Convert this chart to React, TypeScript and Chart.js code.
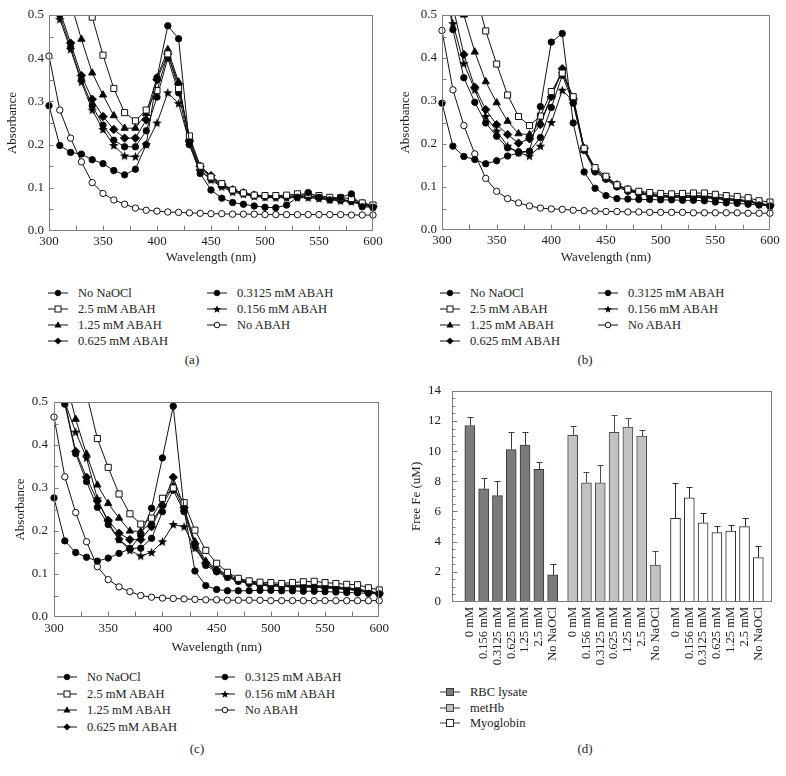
import React, { useEffect, useRef } from 'react';
import { Chart, registerables } from 'chart.js';
Chart.register(...registerables);

const FONT = '"Liberation Serif", "Times New Roman", serif';
const TEXT = '#222';
const FRAME = '#7c7c7c';

// ---------- data: absorbance spectra ----------
const WAVELENGTHS = [300, 310, 320, 330, 340, 350, 360, 370, 380, 390, 400, 410, 420, 430, 440, 450,
  460, 470, 480, 490, 500, 510, 520, 530, 540, 550, 560, 570, 580, 590, 600];
const SERIES_LABELS = ['No NaOCl', '2.5 mM ABAH', '1.25 mM ABAH', '0.625 mM ABAH', '0.3125 mM ABAH', '0.156 mM ABAH', 'No ABAH'];

// Panel (a)
const A_NO_NAOCL = [0.29, 0.198, 0.182, 0.178, 0.165, 0.156, 0.14, 0.13, 0.143, 0.2, 0.355, 0.475, 0.445, 0.2, 0.133, 0.095, 0.076, 0.066, 0.062, 0.058, 0.055, 0.054, 0.06, 0.078, 0.089, 0.078, 0.072, 0.078, 0.086, 0.056, 0.055];
const A_2_5 = [1.0, 0.85, 0.72, 0.6, 0.495, 0.407, 0.33, 0.274, 0.255, 0.28, 0.325, 0.41, 0.33, 0.22, 0.15, 0.125, 0.11, 0.095, 0.088, 0.083, 0.082, 0.082, 0.083, 0.086, 0.085, 0.082, 0.078, 0.077, 0.075, 0.065, 0.06];
const A_1_25 = [0.75, 0.62, 0.53, 0.444, 0.366, 0.315, 0.267, 0.238, 0.238, 0.272, 0.355, 0.42, 0.345, 0.21, 0.145, 0.125, 0.105, 0.095, 0.088, 0.083, 0.08, 0.08, 0.08, 0.082, 0.08, 0.078, 0.075, 0.072, 0.07, 0.062, 0.058];
const A_0_625 = [0.65, 0.51, 0.435, 0.36, 0.305, 0.265, 0.235, 0.215, 0.215, 0.257, 0.35, 0.41, 0.34, 0.21, 0.15, 0.128, 0.108, 0.095, 0.088, 0.083, 0.08, 0.08, 0.08, 0.08, 0.08, 0.078, 0.075, 0.072, 0.07, 0.063, 0.057];
const A_0_3125 = [0.63, 0.5, 0.425, 0.35, 0.29, 0.245, 0.21, 0.195, 0.195, 0.232, 0.31, 0.4, 0.32, 0.2, 0.14, 0.12, 0.105, 0.093, 0.087, 0.082, 0.08, 0.079, 0.079, 0.08, 0.08, 0.077, 0.074, 0.072, 0.069, 0.062, 0.056];
const A_0_156 = [0.62, 0.49, 0.42, 0.345, 0.28, 0.235, 0.198, 0.174, 0.172, 0.2, 0.25, 0.32, 0.295, 0.205, 0.14, 0.118, 0.102, 0.09, 0.085, 0.08, 0.078, 0.077, 0.077, 0.077, 0.077, 0.075, 0.072, 0.07, 0.068, 0.06, 0.055];
const A_NO_ABAH = [0.405, 0.28, 0.215, 0.16, 0.112, 0.087, 0.072, 0.062, 0.053, 0.048, 0.046, 0.044, 0.043, 0.042, 0.041, 0.04, 0.04, 0.039, 0.039, 0.039, 0.038, 0.038, 0.038, 0.038, 0.038, 0.038, 0.038, 0.038, 0.037, 0.037, 0.037];

// Panel (b)
const B_NO_NAOCL = [0.295, 0.195, 0.171, 0.164, 0.154, 0.161, 0.172, 0.179, 0.183, 0.287, 0.437, 0.457, 0.249, 0.135, 0.097, 0.08, 0.073, 0.072, 0.071, 0.071, 0.07, 0.07, 0.069, 0.069, 0.068, 0.065, 0.063, 0.062, 0.06, 0.058, 0.056];
const B_2_5 = [1.0, 0.85, 0.7, 0.56, 0.463, 0.386, 0.314, 0.264, 0.243, 0.265, 0.322, 0.365, 0.31, 0.19, 0.145, 0.125, 0.105, 0.095, 0.09, 0.087, 0.085, 0.084, 0.085, 0.086, 0.086, 0.083, 0.08, 0.078, 0.075, 0.068, 0.065];
const B_1_25 = [0.75, 0.6, 0.5, 0.414, 0.345, 0.296, 0.253, 0.224, 0.222, 0.25, 0.31, 0.37, 0.3, 0.185, 0.14, 0.12, 0.103, 0.093, 0.087, 0.083, 0.08, 0.08, 0.08, 0.08, 0.079, 0.077, 0.074, 0.071, 0.068, 0.062, 0.058];
const B_0_625 = [0.68, 0.52, 0.408, 0.332, 0.28, 0.245, 0.222, 0.202, 0.212, 0.245, 0.31, 0.375, 0.305, 0.19, 0.14, 0.122, 0.105, 0.094, 0.088, 0.083, 0.08, 0.079, 0.079, 0.079, 0.078, 0.076, 0.073, 0.07, 0.068, 0.062, 0.058];
const B_0_3125 = [0.62, 0.466, 0.354, 0.297, 0.249, 0.218, 0.191, 0.182, 0.183, 0.215, 0.285, 0.36, 0.295, 0.185, 0.135, 0.118, 0.1, 0.09, 0.085, 0.08, 0.077, 0.076, 0.076, 0.076, 0.075, 0.073, 0.07, 0.068, 0.066, 0.06, 0.056];
const B_0_156 = [0.62, 0.48, 0.387, 0.326, 0.264, 0.23, 0.195, 0.18, 0.172, 0.195, 0.25, 0.325, 0.3, 0.19, 0.14, 0.122, 0.105, 0.093, 0.086, 0.081, 0.078, 0.077, 0.077, 0.077, 0.076, 0.074, 0.071, 0.069, 0.066, 0.06, 0.056];
const B_NO_ABAH = [0.464, 0.326, 0.243, 0.177, 0.12, 0.09, 0.073, 0.063, 0.056, 0.051, 0.049, 0.048, 0.046, 0.045, 0.044, 0.043, 0.043, 0.042, 0.042, 0.041, 0.041, 0.041, 0.041, 0.04, 0.04, 0.04, 0.04, 0.04, 0.039, 0.039, 0.039];

// Panel (c)
const C_NO_NAOCL = [0.277, 0.177, 0.15, 0.139, 0.13, 0.137, 0.148, 0.158, 0.19, 0.253, 0.37, 0.49, 0.25, 0.107, 0.073, 0.064, 0.061, 0.061, 0.061, 0.062, 0.062, 0.061, 0.061, 0.06, 0.06, 0.059, 0.058, 0.057, 0.056, 0.055, 0.054];
const C_2_5 = [1.0, 0.8, 0.65, 0.52, 0.415, 0.348, 0.286, 0.24, 0.216, 0.23, 0.276, 0.3, 0.266, 0.202, 0.155, 0.125, 0.104, 0.09, 0.084, 0.081, 0.08, 0.078, 0.08, 0.082, 0.083, 0.08, 0.078, 0.076, 0.075, 0.068, 0.063];
const C_1_25 = [0.68, 0.56, 0.46, 0.379, 0.307, 0.264, 0.23, 0.2, 0.199, 0.22, 0.26, 0.305, 0.25, 0.175, 0.13, 0.112, 0.098, 0.088, 0.082, 0.078, 0.076, 0.075, 0.074, 0.074, 0.073, 0.072, 0.07, 0.068, 0.065, 0.06, 0.056];
const C_0_625 = [0.62, 0.5, 0.385, 0.325, 0.27, 0.225, 0.195, 0.18, 0.18, 0.21, 0.26, 0.325, 0.255, 0.17, 0.125, 0.108, 0.095, 0.085, 0.08, 0.076, 0.074, 0.073, 0.072, 0.072, 0.071, 0.07, 0.068, 0.066, 0.063, 0.058, 0.054];
const C_0_3125 = [0.6, 0.495, 0.38, 0.315, 0.255, 0.215, 0.18, 0.16, 0.16, 0.183, 0.245, 0.295, 0.245, 0.165, 0.12, 0.105, 0.092, 0.083, 0.078, 0.074, 0.072, 0.071, 0.07, 0.07, 0.069, 0.068, 0.066, 0.064, 0.062, 0.057, 0.053];
const C_0_156 = [0.6, 0.5, 0.43, 0.37, 0.275, 0.22, 0.18, 0.155, 0.142, 0.15, 0.175, 0.215, 0.21, 0.16, 0.125, 0.11, 0.095, 0.085, 0.08, 0.076, 0.074, 0.072, 0.071, 0.071, 0.07, 0.069, 0.067, 0.065, 0.062, 0.058, 0.055];
const C_NO_ABAH = [0.465, 0.326, 0.243, 0.175, 0.117, 0.087, 0.07, 0.059, 0.05, 0.046, 0.044, 0.043, 0.042, 0.041, 0.04, 0.04, 0.039, 0.039, 0.039, 0.039, 0.038, 0.038, 0.038, 0.038, 0.038, 0.038, 0.038, 0.038, 0.038, 0.038, 0.038];

const PANEL_A = [A_NO_NAOCL, A_2_5, A_1_25, A_0_625, A_0_3125, A_0_156, A_NO_ABAH];
const PANEL_B = [B_NO_NAOCL, B_2_5, B_1_25, B_0_625, B_0_3125, B_0_156, B_NO_ABAH];
const PANEL_C = [C_NO_NAOCL, C_2_5, C_1_25, C_0_625, C_0_3125, C_0_156, C_NO_ABAH];

// ---------- data: free iron bars ----------
const CONC_LABELS = ['0 mM', '0.156 mM', '0.3125 mM', '0.625 mM', '1.25 mM', '2.5 mM', 'No NaOCl'];
const GROUP_LABELS = ['RBC lysate', 'metHb', 'Myoglobin'];
const RBC_FE = [11.7, 7.5, 7.05, 10.1, 10.4, 8.8, 1.8];
const RBC_ERR = [0.55, 0.7, 0.95, 1.2, 0.85, 0.5, 0.75];
const METHB_FE = [11.05, 7.9, 7.9, 11.25, 11.6, 11.0, 2.45];
const METHB_ERR = [0.6, 0.7, 1.2, 1.15, 0.6, 0.4, 0.9];
const MYO_FE = [5.55, 6.9, 5.25, 4.6, 4.7, 5.0, 2.95];
const MYO_ERR = [2.35, 0.7, 0.65, 0.45, 0.4, 0.6, 0.75];
const Y_TICKS_FE = [0, 2, 4, 6, 8, 10, 12, 14];

// ---------- styles ----------
const SERIES_STYLE = [
  { shape: 'circle', r: 3.2, fill: '#000' },
  { shape: 'rect', r: 4.3, fill: '#fff' },
  { shape: 'triangle', r: 4.2, fill: '#000' },
  { shape: 'rectRot', r: 4.2, fill: '#000' },
  { shape: 'circle', r: 3.2, fill: '#000' },
  { shape: 'star', r: 4, fill: '#000' },
  { shape: 'circle', r: 3.2, fill: '#fff' },
];
const BAR_STYLE = [
  { fill: '#7b7b7b', border: '#3a3a3a' },
  { fill: '#c2c2c2', border: '#4a4a4a' },
  { fill: '#ffffff', border: '#2a2a2a' },
];
const GROUP_STRIDE = 7.45;

function makeStar(): HTMLCanvasElement {
  const c = document.createElement('canvas');
  c.width = 11; c.height = 11;
  const g = c.getContext('2d')!;
  g.beginPath();
  for (let k = 0; k < 10; k++) {
    const r = k % 2 === 0 ? 5 : 2.1;
    const a = -Math.PI / 2 + (k * Math.PI) / 5;
    const px = 5.5 + r * Math.cos(a), py = 5.8 + r * Math.sin(a);
    if (k === 0) g.moveTo(px, py); else g.lineTo(px, py);
  }
  g.closePath();
  g.fillStyle = '#000';
  g.fill();
  return c;
}

const framePlugin = {
  id: 'frame',
  afterDraw(chart: any, _args: any, opts: any) {
    const { ctx, chartArea: a } = chart;
    const xs = chart.scales.x, ys = chart.scales.y;
    ctx.save();
    ctx.strokeStyle = FRAME;
    ctx.lineWidth = 1;
    const L = Math.round(a.left) + 0.5, R = Math.round(a.right) - 0.5;
    const T = Math.round(a.top) + 0.5, B = Math.round(a.bottom) - 0.5;
    ctx.strokeRect(L, T, R - L, B - T);
    ctx.beginPath();
    if (opts.xStep) {
      const n = Math.round((xs.max - xs.min) / opts.xStep);
      for (let i = 1; i < n; i++) {
        const px = Math.round(xs.getPixelForValue(xs.min + i * opts.xStep)) + 0.5;
        ctx.moveTo(px, B); ctx.lineTo(px, B - opts.xLen);
      }
    }
    if (opts.yStep) {
      const n = Math.round((ys.max - ys.min) / opts.yStep);
      for (let i = 1; i < n; i++) {
        const v = ys.min + i * opts.yStep;
        const major = opts.yMajor && Math.abs(v / opts.yMajor - Math.round(v / opts.yMajor)) < 1e-6;
        const len = major ? opts.yMajorLen : opts.yLen;
        const py = Math.round(ys.getPixelForValue(v)) + 0.5;
        ctx.moveTo(L, py); ctx.lineTo(L + len, py);
      }
    }
    ctx.stroke();
    ctx.restore();
  },
};

const errorBarPlugin = {
  id: 'errbars',
  afterDatasetsDraw(chart: any, _args: any, opts: any) {
    const ctx = chart.ctx;
    const ys = chart.scales.y;
    ctx.save();
    ctx.lineWidth = 1;
    (opts.errors || []).forEach((errs: number[], di: number) => {
      const meta = chart.getDatasetMeta(di);
      ctx.strokeStyle = BAR_STYLE[di].border;
      meta.data.forEach((bar: any, j: number) => {
        const v = chart.data.datasets[di].data[j].y;
        const top = Math.round(ys.getPixelForValue(v + errs[j])) + 0.5;
        const x = Math.round(bar.x) + 0.5;
        ctx.beginPath();
        ctx.moveTo(x, bar.y);
        ctx.lineTo(x, top);
        ctx.moveTo(x - 3, top);
        ctx.lineTo(x + 3, top);
        ctx.stroke();
      });
    });
    ctx.restore();
  },
};

type LineLayout = {
  yWidth: number; xHeight: number; padTop: number; padRight: number;
  yTitlePad: number; xTitlePad: number; xTickPad: number; yTickPad: number;
};

function makeLineConfig(series: number[][], lay: LineLayout): any {
  const star = makeStar();
  const font = { family: FONT, size: 13 };
  return {
    type: 'line',
    data: {
      datasets: series.map((vals, i) => {
        const st = SERIES_STYLE[i];
        return {
          label: SERIES_LABELS[i],
          data: vals.map((v, j) => ({ x: WAVELENGTHS[j], y: v })),
          borderColor: '#111',
          borderWidth: 1,
          pointStyle: st.shape === 'star' ? star : st.shape,
          pointRadius: st.r,
          pointBackgroundColor: st.fill,
          pointBorderColor: '#111',
          pointBorderWidth: 1,
          tension: 0,
          clip: { left: 8, right: 8, top: 0, bottom: 8 },
        };
      }),
    },
    options: {
      responsive: false,
      animation: false,
      devicePixelRatio: 1,
      layout: { padding: { left: 0, right: lay.padRight, top: lay.padTop, bottom: 0 } },
      plugins: {
        legend: { display: false },
        tooltip: { enabled: false },
        frame: { xStep: 25, xLen: 5, yStep: 0.05, yLen: 4, yMajor: 0.1, yMajorLen: 4 },
      },
      scales: {
        x: {
          type: 'linear', min: 300, max: 600,
          afterFit: (s: any) => { s.height = lay.xHeight; },
          grid: { display: false, drawTicks: false },
          border: { display: false },
          ticks: { stepSize: 50, padding: lay.xTickPad, font, color: TEXT, maxRotation: 0 },
          title: { display: true, text: 'Wavelength (nm)', font, color: TEXT, padding: { top: 0, bottom: lay.xTitlePad } },
        },
        y: {
          min: 0, max: 0.5,
          afterFit: (s: any) => { s.width = lay.yWidth; },
          grid: { display: false, drawTicks: false },
          border: { display: false },
          ticks: { stepSize: 0.1, padding: lay.yTickPad, font, color: TEXT, callback: (v: any) => Number(v).toFixed(1) },
          title: { display: true, text: 'Absorbance', font, color: TEXT, padding: { top: lay.yTitlePad, bottom: 0 } },
        },
      },
    },
    plugins: [framePlugin],
  };
}

function makeBarConfig(): any {
  const font = { family: FONT, size: 13 };
  const groups = [RBC_FE, METHB_FE, MYO_FE];
  const errs = [RBC_ERR, METHB_ERR, MYO_ERR];
  const positions: number[] = [];
  const labelAt: Record<string, string> = {};
  groups.forEach((_g, gi) => CONC_LABELS.forEach((lab, i) => {
    const p = +(gi * GROUP_STRIDE + i).toFixed(3);
    positions.push(p);
    labelAt[String(p)] = lab;
  }));
  return {
    type: 'bar',
    data: {
      datasets: groups.map((vals, gi) => ({
        label: GROUP_LABELS[gi],
        data: vals.map((v, i) => ({ x: +(gi * GROUP_STRIDE + i).toFixed(3), y: v })),
        backgroundColor: BAR_STYLE[gi].fill,
        borderColor: BAR_STYLE[gi].border,
        borderWidth: 1,
        borderSkipped: 'bottom',
        barThickness: 10,
        grouped: false,
      })),
    },
    options: {
      responsive: false,
      animation: false,
      devicePixelRatio: 1,
      layout: { padding: { left: 0, right: 14, top: 15, bottom: 0 } },
      plugins: {
        legend: { display: false },
        tooltip: { enabled: false },
        frame: { yStep: 0.5, yLen: 3, yMajor: 2, yMajorLen: 5 },
        errbars: { errors: errs },
      },
      scales: {
        x: {
          type: 'linear', min: -0.74, max: 2 * GROUP_STRIDE + 6 + 0.44,
          afterFit: (s: any) => { s.height = 70; },
          afterBuildTicks: (axis: any) => { axis.ticks = positions.map((v) => ({ value: v })); },
          grid: { display: false, drawTicks: false },
          border: { display: false },
          ticks: {
            autoSkip: false, minRotation: 90, maxRotation: 90, padding: 5,
            font: { family: FONT, size: 12.5 }, color: TEXT,
            callback: (v: any) => labelAt[String(+Number(v).toFixed(3))] || '',
          },
        },
        y: {
          min: 0, max: 14,
          afterFit: (s: any) => { s.width = 59; },
          afterBuildTicks: (axis: any) => { axis.ticks = Y_TICKS_FE.map((v) => ({ value: v })); },
          grid: { display: false, drawTicks: false },
          border: { display: false },
          ticks: { padding: 11, font, color: TEXT },
          title: { display: true, text: 'Free Fe (uM)', font, color: TEXT, padding: { top: 16, bottom: 0 } },
        },
      },
    },
    plugins: [framePlugin, errorBarPlugin],
  };
}

function ChartBox(props: { left: number; top: number; width: number; height: number; make: () => any }) {
  const ref = useRef<HTMLCanvasElement | null>(null);
  useEffect(() => {
    const chart = new Chart(ref.current as HTMLCanvasElement, props.make());
    return () => chart.destroy();
  }, []);
  return (
    <canvas
      ref={ref}
      width={props.width}
      height={props.height}
      style={{ position: 'absolute', left: props.left, top: props.top, width: props.width, height: props.height }}
    />
  );
}

function Glyph({ idx }: { idx: number }) {
  const st = SERIES_STYLE[idx];
  const cx = 10, cy = 6;
  let mark: any = null;
  if (st.shape === 'circle') mark = <circle cx={cx} cy={cy} r={2.8} fill={st.fill} stroke="#111" strokeWidth={1} />;
  else if (st.shape === 'rect') mark = <rect x={cx - 3} y={cy - 3} width={6} height={6} fill="#fff" stroke="#111" strokeWidth={1} />;
  else if (st.shape === 'triangle') mark = <polygon points={`${cx},${cy - 3.8} ${cx + 3.6},${cy + 2.6} ${cx - 3.6},${cy + 2.6}`} fill="#000" />;
  else if (st.shape === 'rectRot') mark = <polygon points={`${cx},${cy - 3.6} ${cx + 3.6},${cy} ${cx},${cy + 3.6} ${cx - 3.6},${cy}`} fill="#000" />;
  else {
    const pts: string[] = [];
    for (let k = 0; k < 10; k++) {
      const r = k % 2 === 0 ? 4.2 : 1.8;
      const a = -Math.PI / 2 + (k * Math.PI) / 5;
      pts.push(`${(cx + r * Math.cos(a)).toFixed(2)},${(cy + 0.4 + r * Math.sin(a)).toFixed(2)}`);
    }
    mark = <polygon points={pts.join(' ')} fill="#000" />;
  }
  return (
    <svg width={20} height={12} style={{ display: 'block' }}>
      <line x1={0} y1={cy} x2={20} y2={cy} stroke="#111" strokeWidth={1} />
      {mark}
    </svg>
  );
}

function BarGlyph({ idx }: { idx: number }) {
  const st = BAR_STYLE[idx];
  return (
    <svg width={20} height={12} style={{ display: 'block' }}>
      <line x1={0} y1={6} x2={20} y2={6} stroke="#333" strokeWidth={1} />
      <rect x={6.5} y={2.5} width={7} height={7} fill={st.fill} stroke={st.border} strokeWidth={1} />
    </svg>
  );
}

function LegendRow(props: { x: number; y: number; textX: number; children: any; label: string }) {
  return (
    <>
      <div style={{ position: 'absolute', left: props.x, top: props.y - 6 }}>{props.children}</div>
      <div style={{ position: 'absolute', left: props.textX, top: props.y - 9, height: 18, lineHeight: '18px', fontSize: 12.5, color: TEXT, whiteSpace: 'nowrap' }}>{props.label}</div>
    </>
  );
}

function LineLegend(props: { x1: number; x2: number; gap: number; y0: number; dy: number }) {
  const rows: any[] = [];
  SERIES_LABELS.forEach((lab, i) => {
    const col = i < 4 ? 0 : 1;
    const row = i < 4 ? i : i - 4;
    const gx = col === 0 ? props.x1 : props.x2;
    rows.push(
      <LegendRow key={i} x={gx} y={props.y0 + row * props.dy} textX={gx + 20 + props.gap} label={lab}>
        <Glyph idx={i} />
      </LegendRow>
    );
  });
  return <>{rows}</>;
}

function Caption(props: { cx: number; cy: number; text: string }) {
  return (
    <div style={{ position: 'absolute', left: props.cx - 20, top: props.cy - 9, width: 40, height: 18, lineHeight: '18px', textAlign: 'center', fontSize: 13, color: TEXT }}>
      {props.text}
    </div>
  );
}

export default function App() {
  return (
    <div style={{ position: 'absolute', left: 0, top: 0, width: 786, height: 776, background: '#fff', fontFamily: FONT, overflow: 'hidden' }}>
      <ChartBox left={0} top={0} width={393} height={270}
        make={() => makeLineConfig(PANEL_A, { yWidth: 49, xHeight: 39, padTop: 15, padRight: 20, yTitlePad: 5, xTitlePad: 5, xTickPad: 3, yTickPad: 5 })} />
      <ChartBox left={393} top={0} width={393} height={270}
        make={() => makeLineConfig(PANEL_B, { yWidth: 49, xHeight: 40, padTop: 15, padRight: 16, yTitlePad: 5, xTitlePad: 5, xTickPad: 3, yTickPad: 5 })} />
      <ChartBox left={0} top={387} width={393} height={270}
        make={() => makeLineConfig(PANEL_C, { yWidth: 54, xHeight: 40, padTop: 15, padRight: 12, yTitlePad: 13, xTitlePad: 2, xTickPad: 4, yTickPad: 6 })} />
      <ChartBox left={393} top={372} width={393} height={300} make={makeBarConfig} />

      <LineLegend x1={48} x2={207} gap={10} y0={293} dy={16} />
      <LineLegend x1={440} x2={598} gap={10} y0={293} dy={16} />
      <LineLegend x1={57} x2={215} gap={10} y0={677} dy={16.5} />
      {GROUP_LABELS.map((lab, i) => (
        <LegendRow key={lab} x={440} y={692 + i * 15.5} textX={470} label={lab}>
          <BarGlyph idx={i} />
        </LegendRow>
      ))}

      <Caption cx={192} cy={360} text="(a)" />
      <Caption cx={585} cy={360} text="(b)" />
      <Caption cx={197} cy={749} text="(c)" />
      <Caption cx={585} cy={749} text="(d)" />
    </div>
  );
}
